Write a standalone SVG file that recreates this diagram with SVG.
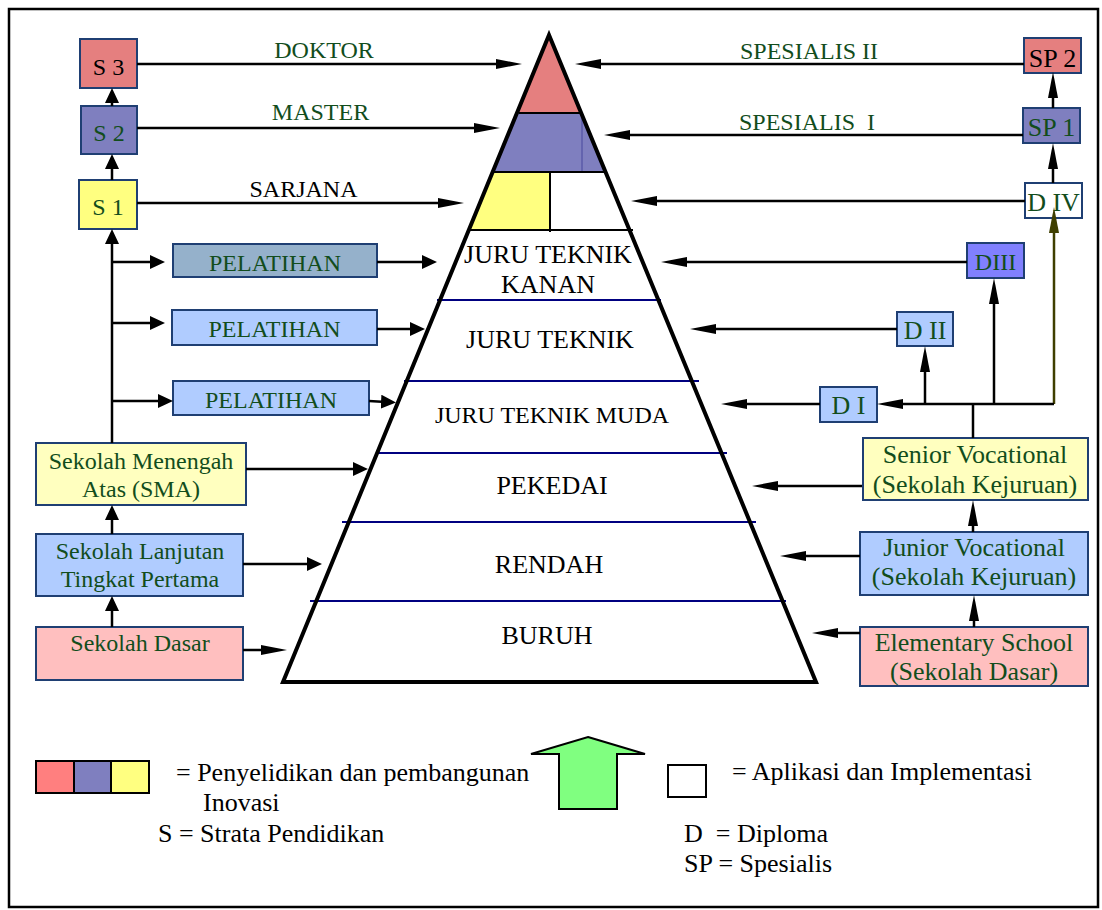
<svg xmlns="http://www.w3.org/2000/svg" width="1102" height="910" viewBox="0 0 1102 910">
<defs>
<marker id="al" viewBox="0 0 26 10" refX="16" refY="5" markerWidth="26" markerHeight="10" markerUnits="userSpaceOnUse" orient="auto"><path d="M0,0 L26,5 L0,10 Z" fill="#000"/></marker>
<marker id="as" viewBox="0 0 15 14" refX="5" refY="7" markerWidth="15" markerHeight="14" markerUnits="userSpaceOnUse" orient="auto"><path d="M0,0 L15,7 L0,14 Z" fill="#000"/></marker>
<marker id="ao" viewBox="0 0 26 10" refX="16" refY="5" markerWidth="26" markerHeight="10" markerUnits="userSpaceOnUse" orient="auto"><path d="M0,0 L26,5 L0,10 Z" fill="#3f3f00"/></marker>
<style>
text{font-family:"Liberation Serif","Times New Roman",serif;fill:#000}
.m{text-anchor:middle}
.f24{font-size:24px}
.f26{font-size:26px}
.g{fill:#124d1c}
.box{stroke:#1f3f73;stroke-width:2}
.c path{fill:none;stroke:#000;stroke-width:2.5}
.band{stroke:#000080;stroke-width:2}
.red{fill:#e57f7f}
.pur{fill:#7f7fbf}
.yel{fill:#ffff80}
.lyel{fill:#ffffbf}
.lblu{fill:#b0ccff}
.pink{fill:#ffbfbf}
</style>
</defs>
<rect x="0" y="0" width="1102" height="910" fill="#fff"/>
<rect x="9" y="9" width="1089" height="898" fill="none" stroke="#000" stroke-width="2.5"/>

<g id="pyramid">
<polygon points="549,35 283,682 816,682" fill="#fff"/>
<polygon points="549,35 517,113 581,113" fill="#e57f7f"/>
<polygon points="517,113 581,113 605.4,172 492.6,172" fill="#7f7fbf"/>
<line x1="582" y1="113" x2="582" y2="172" stroke="#5a5aa8" stroke-width="1.5"/>
<polygon points="492.6,172 550,172 550,231 468.5,231" fill="#ffff80"/>
<line x1="519" y1="113" x2="580" y2="113" stroke="#000" stroke-width="2"/>
<line x1="494" y1="172" x2="605" y2="172" stroke="#000" stroke-width="2"/>
<line x1="550" y1="172" x2="550" y2="232" stroke="#000" stroke-width="2"/>
<line x1="470" y1="230" x2="633" y2="230" stroke="#000" stroke-width="2"/>
<line class="band" x1="437" y1="300" x2="661" y2="300"/>
<line class="band" x1="404" y1="381" x2="699" y2="381"/>
<line class="band" x1="377" y1="453" x2="727" y2="453"/>
<line class="band" x1="342" y1="522" x2="756" y2="522"/>
<line class="band" x1="310" y1="601" x2="786" y2="601"/>
<polygon points="549,35 283,682 816,682" fill="none" stroke="#000" stroke-width="4" stroke-linejoin="miter"/>
<text class="m f26" x="548" y="263">JURU TEKNIK</text>
<text class="m f26" x="548" y="293">KANAN</text>
<text class="m f26" x="550" y="348">JURU TEKNIK</text>
<text class="m f24" x="552" y="423">JURU TEKNIK MUDA</text>
<text class="m f26" x="552" y="494">PEKEDAI</text>
<text class="m f26" x="549" y="573">RENDAH</text>
<text class="m f26" x="547" y="644">BURUH</text>
</g>

<g id="s3"><rect class="box red" x="80" y="39" width="57" height="49"/><text class="m f24" x="108.5" y="75">S 3</text></g>
<g id="s2"><rect class="box pur" x="81" y="106" width="56" height="48"/><text class="m f24 g" x="109" y="141">S 2</text></g>
<g id="s1"><rect class="box yel" x="79" y="180" width="58" height="49"/><text class="m f24 g" x="108" y="215">S 1</text></g>

<g id="pelatihan1"><rect class="box" fill="#95b1cb" x="173" y="244" width="204" height="33"/><text class="m f24 g" x="275" y="271">PELATIHAN</text></g>
<g id="pelatihan2"><rect class="box lblu" x="172" y="310" width="205" height="35"/><text class="m f24 g" x="274.5" y="337">PELATIHAN</text></g>
<g id="pelatihan3"><rect class="box lblu" x="173" y="381" width="196" height="34"/><text class="m f24 g" x="271" y="408">PELATIHAN</text></g>

<g id="sma"><rect class="box lyel" x="36" y="443" width="210" height="62"/><text class="m f24 g" x="141" y="469">Sekolah Menengah</text><text class="m f24 g" x="141" y="497">Atas (SMA)</text></g>
<g id="sltp"><rect class="box lblu" x="36" y="534" width="207" height="62"/><text class="m f24 g" x="140" y="559">Sekolah Lanjutan</text><text class="m f24 g" x="140" y="587">Tingkat Pertama</text></g>
<g id="sd"><rect class="box pink" x="36" y="627" width="207" height="53"/><text class="m f24 g" x="140" y="651">Sekolah Dasar</text></g>

<g id="sp2"><rect class="box red" x="1024" y="38" width="57" height="35"/><text class="m f26" x="1052.5" y="67">SP 2</text></g>
<g id="sp1"><rect class="box pur" x="1023" y="108" width="57" height="35"/><text class="m f26 g" x="1051.5" y="136">SP 1</text></g>
<g id="div"><rect class="box" fill="#fff" x="1025" y="183" width="57" height="35"/><text class="m f26 g" x="1053.5" y="211">D IV</text></g>
<g id="diii"><rect class="box" fill="#8080ff" x="967" y="243" width="57" height="35"/><text class="m f24 g" x="995.5" y="270">DIII</text></g>
<g id="dii"><rect class="box lblu" x="897" y="312" width="56" height="34"/><text class="m f26 g" x="925" y="339">D II</text></g>
<g id="di"><rect class="box lblu" x="820" y="387" width="57" height="35"/><text class="m f26 g" x="848.5" y="414">D I</text></g>

<g id="senior"><rect class="box lyel" x="863" y="438" width="225" height="62"/><text class="m f26 g" x="975" y="463">Senior Vocational</text><text class="m f26 g" x="975" y="493">(Sekolah Kejuruan)</text></g>
<g id="junior"><rect class="box lblu" x="860" y="532" width="228" height="63"/><text class="m f26 g" x="974" y="556">Junior Vocational</text><text class="m f26 g" x="974" y="585">(Sekolah Kejuruan)</text></g>
<g id="elementary"><rect class="box pink" x="860" y="627" width="228" height="59"/><text class="m f26 g" x="974" y="651">Elementary School</text><text class="m f26 g" x="974" y="680">(Sekolah Dasar)</text></g>

<g id="labels">
<text class="m f24 g" x="324" y="58">DOKTOR</text>
<text class="m f24 g" x="320.5" y="120">MASTER</text>
<text class="m f24" x="303.5" y="197">SARJANA</text>
<text class="f24 g" x="740" y="59">SPESIALIS II</text>
<text class="f24 g" x="739" y="130" xml:space="preserve">SPESIALIS  I</text>
</g>

<g id="connectors" class="c">
<path d="M112,180 L112,164" marker-end="url(#as)"/>
<path d="M112,106 L112,98" marker-end="url(#as)"/>
<path d="M112,443 L112,239" marker-end="url(#as)"/>
<path d="M112,262 L155,262" marker-end="url(#as)"/>
<path d="M112,323 L155,323" marker-end="url(#as)"/>
<path d="M112,401 L163,401" marker-end="url(#as)"/>
<path d="M377,262 L427,262" marker-end="url(#as)"/>
<path d="M377,329 L415,329" marker-end="url(#as)"/>
<path d="M369,401 L386,402" marker-end="url(#as)"/>
<path d="M246,469 L358,469" marker-end="url(#as)"/>
<path d="M112,534 L112,515" marker-end="url(#as)"/>
<path d="M243,564 L312,564" marker-end="url(#as)"/>
<path d="M112,627 L112,606" marker-end="url(#as)"/>
<path d="M243,650 L277,650" marker-end="url(#al)"/>
<path d="M137,64 L512,64" marker-end="url(#al)"/>
<path d="M137,128 L490,128" marker-end="url(#al)"/>
<path d="M137,203 L454,203" marker-end="url(#al)"/>
<path d="M1024,64 L585,64" marker-end="url(#al)"/>
<path d="M1023,135 L614,135" marker-end="url(#al)"/>
<path d="M1025,201 L641,201" marker-end="url(#al)"/>
<path d="M1053,183 L1053,153" marker-end="url(#al)"/>
<path d="M1053,108 L1053,82" marker-end="url(#al)"/>
<path d="M1054,404 L1054,217" style="stroke:#3f3f00" marker-end="url(#ao)"/>
<path d="M967,262 L671,262" marker-end="url(#al)"/>
<path d="M897,329 L700,329" marker-end="url(#al)"/>
<path d="M820,404 L731,404" marker-end="url(#al)"/>
<path d="M1054,404 L887,404" marker-end="url(#al)"/>
<path d="M925,404 L925,356" marker-end="url(#al)"/>
<path d="M994,404 L994,288" marker-end="url(#al)"/>
<path d="M973,404 L973,438"/>
<path d="M862,486 L762,486" marker-end="url(#al)"/>
<path d="M973,532 L973,510" marker-end="url(#al)"/>
<path d="M860,556 L790,556" marker-end="url(#al)"/>
<path d="M974,627 L974,605" marker-end="url(#al)"/>
<path d="M860,633 L822,633" marker-end="url(#al)"/>
</g>

<g id="legend">
<rect x="36" y="761" width="38" height="32" fill="#ff7f7f" stroke="#000" stroke-width="2"/>
<rect x="74" y="761" width="37" height="32" fill="#7f7fbf" stroke="#000" stroke-width="2"/>
<rect x="111" y="761" width="38" height="32" fill="#ffff80" stroke="#000" stroke-width="2"/>
<text class="f26" x="176" y="781">= Penyelidikan dan pembangunan</text>
<text class="f26" x="203" y="811">Inovasi</text>
<text class="f26" x="158" y="842">S = Strata Pendidikan</text>
<polygon points="588,737 645,754 617,754 617,809 559,809 559,754 531,754" fill="#80ff80" stroke="#000" stroke-width="2"/>
<rect x="668" y="765" width="38" height="32" fill="#fff" stroke="#000" stroke-width="2"/>
<text class="f26" x="732" y="780">= Aplikasi dan Implementasi</text>
<text class="f26" x="684" y="842" xml:space="preserve">D  = Diploma</text>
<text class="f26" x="684" y="872">SP = Spesialis</text>
</g>
</svg>
